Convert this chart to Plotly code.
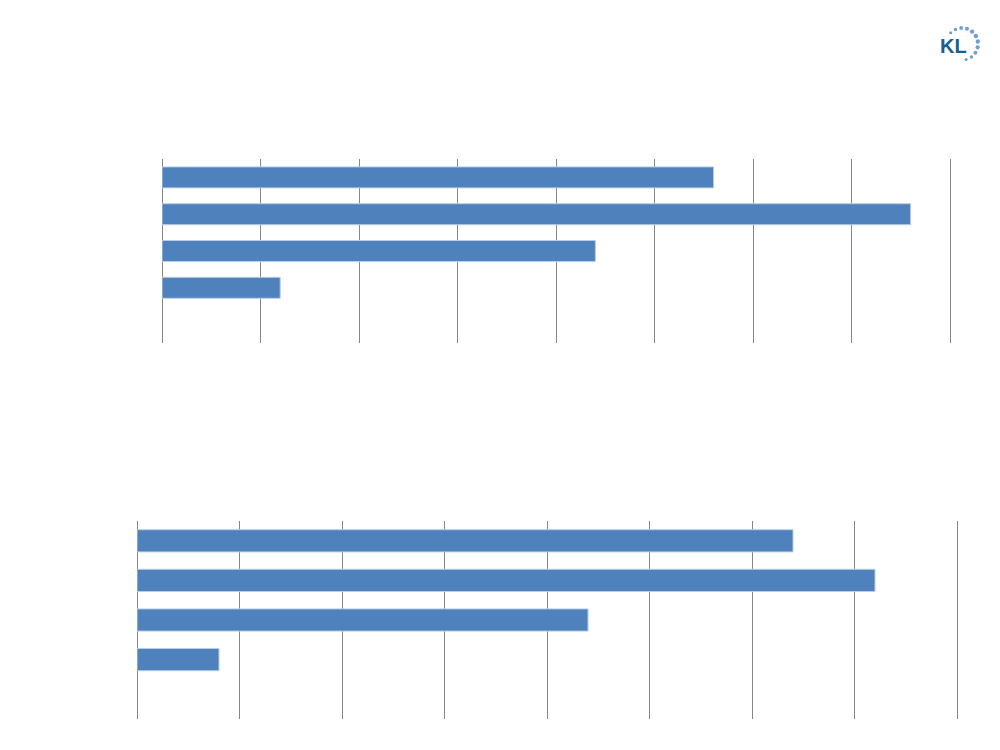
import math
import plotly.graph_objects as go

# Data (axis unit = one gridline interval x10)
categories = ["A", "B", "C", "D", "E"]
values_top = [56, 76, 44, 12, None]
values_bottom = [64, 72, 44, 8, None]
x_max = 80
x_dtick = 10

bar_color = "#4F81BD"
edge_color = "#B9CDE5"
grid_color = "#868686"

W, H, OFF = 1000, 750, 8  # page body margin offset


def px(x):
    return (x - OFF) / W


def py(y):
    return 1 - (y - OFF) / H


fig = go.Figure()
fig.add_trace(go.Bar(y=categories, x=values_top, orientation="h", width=0.57,
                     marker=dict(color=bar_color, line=dict(color=edge_color, width=1)),
                     xaxis="x", yaxis="y", hoverinfo="x"))
fig.add_trace(go.Bar(y=categories, x=values_bottom, orientation="h", width=0.56,
                     marker=dict(color=bar_color, line=dict(color=edge_color, width=1)),
                     xaxis="x2", yaxis="y2", hoverinfo="x"))

ext = 0.3  # small extension so the last gridline is drawn
xax = dict(range=[0, x_max + ext], dtick=x_dtick, showgrid=True, gridcolor=grid_color, gridwidth=1,
           zeroline=True, zerolinecolor=grid_color, zerolinewidth=1,
           showticklabels=False, ticks="", showline=False, fixedrange=True)
yax = dict(autorange="reversed", showticklabels=False, ticks="", showgrid=False,
           zeroline=False, showline=False, fixedrange=True)

# pixel geometry of the two plot areas
t_x0, t_x1, t_y0, t_y1 = 162, 950, 159, 343
b_x0, b_x1, b_y0, b_y1 = 137, 957, 521, 719
t_x1e = t_x0 + (t_x1 - t_x0) * (x_max + ext) / x_max
b_x1e = b_x0 + (b_x1 - b_x0) * (x_max + ext) / x_max

# logo dots (decoration)
shapes = []
cx, cy, r = 962, 44, 16
n = 11
for i in range(n):
    ang = math.radians(-45 + i * 21)
    dx = cx + r * math.sin(ang)
    dy = cy - r * math.cos(ang)
    s = 1.3 + 0.9 * math.sin(math.pi * (i + 1) / (n + 1))
    shapes.append(dict(type="circle", xref="paper", yref="paper",
                       x0=px(dx - s), x1=px(dx + s),
                       y0=py(dy + s), y1=py(dy - s),
                       fillcolor="#6E9FD6", line=dict(width=0)))

fig.update_layout(
    width=W, height=H,
    margin=dict(l=0, r=0, t=0, b=0),
    paper_bgcolor="white", plot_bgcolor="white",
    showlegend=False,
    xaxis=dict(domain=[px(t_x0), px(t_x1e)], anchor="y", **xax),
    yaxis=dict(domain=[py(t_y1), py(t_y0)], anchor="x", **yax),
    xaxis2=dict(domain=[px(b_x0), px(b_x1e)], anchor="y2", **xax),
    yaxis2=dict(domain=[py(b_y1), py(b_y0)], anchor="x2", **yax),
    shapes=shapes,
    annotations=[dict(text="<b>KL</b>", xref="paper", yref="paper",
                      x=px(953), y=py(45.5), xanchor="center", yanchor="middle",
                      showarrow=False,
                      font=dict(family="Liberation Sans", size=20, color="#1A5E8E"))],
)

fig.write_html("out.html")
